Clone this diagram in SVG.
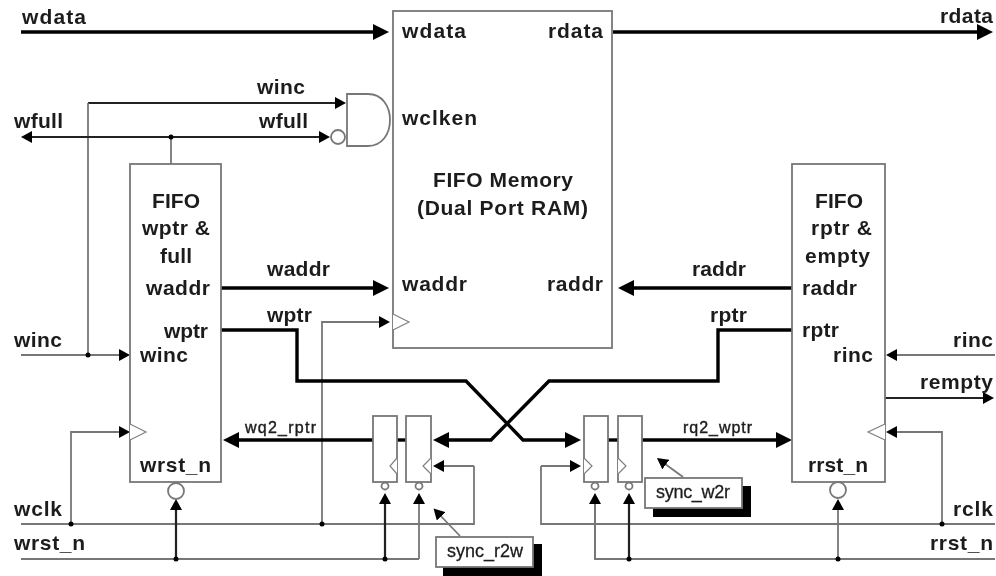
<svg xmlns="http://www.w3.org/2000/svg" width="996" height="576" viewBox="0 0 996 576">
<style>
.box{fill:#fff;stroke:#777;stroke-width:1.8}
.tri{fill:#fff;stroke:#808080;stroke-width:1.2}
.thin{fill:none;stroke:#777;stroke-width:1.8}
.mid{fill:none;stroke:#222;stroke-width:2.2}
.thick{fill:none;stroke:#000;stroke-width:3.4}
.sm{marker-end:url(#s)}
.lg{marker-end:url(#b)}
.dot{fill:#000}
text{font-family:"Liberation Sans",Arial,sans-serif;font-size:21px;font-weight:bold;fill:#1c1c1c}
.c{font-size:16px;font-weight:normal;stroke:#1c1c1c;stroke-width:.4}
.n{font-size:18px;font-weight:normal;stroke:#1c1c1c;stroke-width:.3}
</style>
<defs>
<marker id="b" markerUnits="userSpaceOnUse" markerWidth="16" markerHeight="16" viewBox="0 0 16 16" refX="8" refY="8" orient="auto"><path d="M0 0L16 8L0 16z" fill="#000"/></marker>
<marker id="s" markerUnits="userSpaceOnUse" markerWidth="11" markerHeight="12" viewBox="0 0 11 12" refX="6" refY="6" orient="auto"><path d="M0 0L11 6L0 12z" fill="#000"/></marker>
<filter id="soft" x="0" y="0" width="100%" height="100%"><feGaussianBlur stdDeviation="0.6"/></filter>
</defs>
<rect width="996" height="576" fill="#fff"/>
<g filter="url(#soft)">
<g id="connectors">
<path class="thick lg" d="M21 32H381"/>
<path class="thick lg" d="M613 32H985"/>
<path class="mid sm" d="M88 103H341"/>
<path class="thin" d="M88 103V355"/>
<path class="mid sm" d="M171 137H325"/>
<path class="mid sm" d="M171 137H26"/>
<path class="thin" d="M171 137V164"/>
<path class="thick lg" d="M221 288H381"/>
<path class="thick lg" d="M792 288H626"/>
<path class="thin sm" d="M322 524V322H385"/>
<path class="thin sm" d="M21 355H125"/>
<path class="thin sm" d="M71 524V432H125"/>
<path class="thin" d="M21 524H474V466"/>
<path class="thin sm" d="M474 466H438"/>
<path class="thin" d="M21 559H419"/>
<path class="mid sm" d="M176 559V504"/>
<path class="mid sm" d="M385 559V498"/>
<path class="thin sm" d="M419 559V498"/>
<path class="thick lg" d="M221 330H297V381H466L523 440H573"/>
<path class="thick lg" d="M792 330H718V381H549L491 440H441"/>
<path class="thick lg" d="M373 440H231"/>
<path class="thick" d="M397 440H406"/>
<path class="thick" d="M608 440H618"/>
<path class="thick lg" d="M642 440H784"/>
<path class="thin sm" d="M541 466H576"/>
<path class="thin" d="M541 466V524H995"/>
<path class="thin" d="M595 498V559H995"/>
<path class="thin sm" d="M595 559V498"/>
<path class="mid sm" d="M629 559V498"/>
<path class="thin sm" d="M838 559V504"/>
<path class="thin sm" d="M995 355H891"/>
<path class="mid sm" d="M885 398H989"/>
<path class="thin sm" d="M942 524V432H891"/>
<path class="thin sm" d="M460 536L437 512"/>
<path class="thin sm" d="M683 477L661 461"/>
<circle class="dot" cx="171" cy="137" r="2.5"/>
<circle class="dot" cx="88" cy="355" r="2.5"/>
<circle class="dot" cx="71" cy="524" r="2.5"/>
<circle class="dot" cx="322" cy="524" r="2.5"/>
<circle class="dot" cx="176" cy="559" r="2.5"/>
<circle class="dot" cx="385" cy="559" r="2.5"/>
<circle class="dot" cx="629" cy="559" r="2.5"/>
<circle class="dot" cx="838" cy="559" r="2.5"/>
<circle class="dot" cx="942" cy="524" r="2.5"/>
<text x="22" y="24" textLength="64">wdata</text>
<text x="940" y="23" textLength="53">rdata</text>
<text x="257" y="94" textLength="48">winc</text>
<text x="259" y="128" textLength="49">wfull</text>
<text x="14" y="128" textLength="49">wfull</text>
<text x="267" y="276" textLength="63">waddr</text>
<text x="267" y="322" textLength="45">wptr</text>
<text x="692" y="276" textLength="54">raddr</text>
<text x="710" y="322" textLength="37">rptr</text>
<text x="14" y="347" textLength="48">winc</text>
<text x="14" y="516" textLength="48">wclk</text>
<text x="14" y="550" textLength="71">wrst_n</text>
<text x="953" y="347" textLength="40">rinc</text>
<text x="920" y="389" textLength="73">rempty</text>
<text x="953" y="516" textLength="40">rclk</text>
<text x="930" y="550" textLength="63">rrst_n</text>
<text class="c" x="245" y="433" textLength="71">wq2_rptr</text>
<text class="c" x="683" y="433" textLength="69">rq2_wptr</text>
</g>
<g id="memory">
<rect class="box" x="393" y="11" width="219" height="337"/>
<path class="tri" d="M393 314L409 322L393 330"/>
<text x="402" y="38" textLength="64">wdata</text>
<text x="548" y="38" textLength="55">rdata</text>
<text x="402" y="125" textLength="75">wclken</text>
<text x="433" y="187" textLength="140">FIFO Memory</text>
<text x="417" y="215" textLength="171">(Dual Port RAM)</text>
<text x="402" y="291" textLength="65">waddr</text>
<text x="547" y="291" textLength="56">raddr</text>
</g>
<g id="and-gate">
<path class="box" d="M347 94H368C382 94 390 106 390 120C390 134 382 146 368 146H347Z"/>
<circle class="box" cx="338" cy="137" r="7"/>
</g>
<g id="fifo-wptr">
<rect class="box" x="130" y="164" width="91" height="318"/>
<path class="tri" d="M130 424L146 432L130 440"/>
<circle class="box" cx="176" cy="491" r="8"/>
<text x="152" y="208" textLength="48">FIFO</text>
<text x="142" y="235" textLength="68">wptr &amp;</text>
<text x="160" y="263" textLength="32">full</text>
<text x="146" y="295" textLength="64">waddr</text>
<text x="164" y="338" textLength="44">wptr</text>
<text x="140" y="362" textLength="48">winc</text>
<text x="140" y="472" textLength="71">wrst_n</text>
</g>
<g id="fifo-rptr">
<rect class="box" x="792" y="164" width="93" height="318"/>
<path class="tri" d="M885 424L868 432L885 440"/>
<circle class="box" cx="838" cy="490" r="8"/>
<text x="815" y="208" textLength="48">FIFO</text>
<text x="811" y="235" textLength="61">rptr &amp;</text>
<text x="805" y="263" textLength="65">empty</text>
<text x="802" y="295" textLength="55">raddr</text>
<text x="802" y="337" textLength="37">rptr</text>
<text x="833" y="362" textLength="40">rinc</text>
<text x="808" y="472" textLength="60">rrst_n</text>
</g>
<g id="sync-r2w-ff1">
<rect class="box" x="373" y="416" width="24" height="66"/>
<path class="tri" d="M397 458L390 466L397 474"/>
<circle class="box" cx="385" cy="486" r="3.5"/>
</g>
<g id="sync-r2w-ff2">
<rect class="box" x="406" y="416" width="25" height="66"/>
<path class="tri" d="M431 458L423 466L431 474"/>
<circle class="box" cx="419" cy="486" r="3.5"/>
</g>
<g id="sync-w2r-ff1">
<rect class="box" x="584" y="416" width="24" height="66"/>
<path class="tri" d="M584 458L592 466L584 474"/>
<circle class="box" cx="595" cy="486" r="3.5"/>
</g>
<g id="sync-w2r-ff2">
<rect class="box" x="618" y="416" width="24" height="66"/>
<path class="tri" d="M618 458L626 466L618 474"/>
<circle class="box" cx="629" cy="486" r="3.5"/>
</g>
<g id="sync-r2w">
<rect x="443" y="544" width="99" height="32" fill="#000"/>
<rect class="box" x="436" y="537" width="97" height="30"/>
<text class="n" x="447" y="557" textLength="76">sync_r2w</text>
</g>
<g id="sync-w2r">
<rect x="653" y="486" width="98" height="31" fill="#000"/>
<rect class="box" x="645" y="478" width="97" height="30"/>
<text class="n" x="656" y="498" textLength="74">sync_w2r</text>
</g>
</g>
</svg>
